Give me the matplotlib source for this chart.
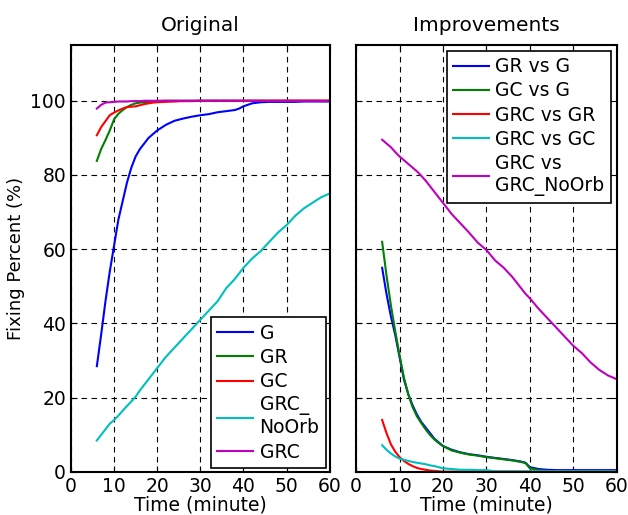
import numpy as np
import matplotlib
matplotlib.use("Agg")
import matplotlib.pyplot as plt

# time axis (minutes) shared by all curves
t = [6, 7, 8, 9, 10, 11, 12, 13, 14, 15, 16, 17, 18, 19, 20, 22, 24, 26, 28, 30,
     32, 34, 36, 38, 39, 40, 42, 44, 46, 48, 50, 52, 54, 56, 58, 60]

# left panel: fixing percent
g = [28.5, 37, 46, 54, 61, 68, 73, 78, 82, 85, 87, 88.5, 90, 91, 92, 93.5, 94.6, 95.2, 95.7, 96.1,
     96.4, 96.9, 97.2, 97.5, 97.9, 98.5, 99.3, 99.6, 99.7, 99.7, 99.7, 99.7, 99.8, 99.8, 99.8, 99.8]
gr = [83.8, 87, 89.4, 92, 95, 96.5, 97.5, 98.3, 98.9, 99.3, 99.5, 99.6, 99.7, 99.8, 99.9, 100, 100, 100, 100, 100,
      100, 100, 100, 100, 100, 100, 100, 100, 100, 100, 100, 100, 100, 100, 100, 100]
gc = [90.7, 92.9, 94.5, 96.1, 96.8, 97.4, 97.9, 98.3, 98.4, 98.5, 98.8, 99.1, 99.3, 99.5, 99.6, 99.7, 99.8, 99.9, 99.9, 100,
      100, 100, 100, 100, 100, 100, 100, 100, 100, 100, 100, 100, 100, 100, 100, 100]
grc_noorb = [8.5, 10, 11.5, 13, 14, 15.2, 16.5, 17.8, 19, 20.3, 22, 23.5, 25, 26.5, 28, 31, 33.5, 36, 38.5, 41,
             43.5, 46, 49.5, 52, 53.5, 55, 57.5, 59.5, 62, 64.5, 66.5, 69, 71, 72.5, 74, 75]
grc = [97.9, 98.9, 99.5, 99.6, 99.7, 99.8, 99.8, 99.8, 99.9, 99.9, 99.9, 100, 100, 100, 100, 100, 100, 100, 100, 100,
       100, 100, 100, 100, 100, 100, 100, 100, 100, 100, 100, 100, 100, 100, 100, 100]

# right panel: improvements
gr_vs_g = [55, 48, 42, 37, 31, 25, 21, 18, 15.5, 13.5, 12, 10.5, 9, 8, 7, 6, 5.3, 4.8, 4.5, 4.1,
           3.8, 3.5, 3.2, 2.8, 2.5, 1.3, 0.8, 0.6, 0.5, 0.5, 0.5, 0.5, 0.5, 0.5, 0.5, 0.5]
gc_vs_g = [62, 53, 45, 38, 31.5, 25.5, 21, 17.5, 15, 13.2, 11.5, 10, 8.8, 7.8, 7, 5.8, 5.2, 4.7, 4.4, 4,
           3.7, 3.4, 3.1, 2.7, 2.4, 1, 0.5, 0.3, 0.2, 0.2, 0.2, 0.2, 0.2, 0.2, 0.2, 0.2]
grc_vs_gr = [14, 10.5, 7.5, 5.5, 4, 3, 2.2, 1.6, 1.1, 0.8, 0.6, 0.4, 0.3, 0.2, 0.1, 0.1, 0.1, 0.1, 0.1, 0.1,
             0.1, 0.1, 0.1, 0.1, 0.1, 0.1, 0.1, 0.1, 0.1, 0.1, 0.1, 0.1, 0.1, 0.1, 0.1, 0.1]
grc_vs_gc = [7.2, 6, 5, 4.2, 3.6, 3.3, 3, 2.7, 2.5, 2.3, 2.1, 1.8, 1.6, 1.3, 1, 0.8, 0.6, 0.6, 0.5, 0.5,
             0.2, 0.2, 0.2, 0.2, 0.2, 0.2, 0.2, 0.2, 0.2, 0.2, 0.2, 0.2, 0.2, 0.2, 0.2, 0.2]
grc_vs_noorb = [89.5, 88.5, 87.5, 86.2, 85, 84, 83, 82, 81, 79.8, 78.5, 77, 75.5, 74, 72.5, 69.5, 67, 64.5, 61.8, 59.8,
                57, 55, 52.5, 49.5, 48, 46.8, 44, 41.5, 39, 36.5, 34, 32, 29.5, 27.5, 26, 25]

cols = ['#0000ff', '#008000', '#ff0000', '#00bfbf', '#bf00bf']

plt.rcParams["font.family"] = "DejaVu Sans"
plt.rcParams["font.size"] = 13

fig = plt.figure(figsize=(6.28, 5.15), dpi=100)
ax1 = fig.add_axes([0.113, 0.0835, 0.412, 0.829])
ax2 = fig.add_axes([0.567, 0.0835, 0.415, 0.829])

left_series = [(g, 'G'), (gr, 'GR'), (gc, 'GC'), (grc_noorb, 'GRC_\nNoOrb'), (grc, 'GRC')]
right_series = [(gr_vs_g, 'GR vs G'), (gc_vs_g, 'GC vs G'), (grc_vs_gr, 'GRC vs GR'),
                (grc_vs_gc, 'GRC vs GC'), (grc_vs_noorb, 'GRC vs\nGRC_NoOrb')]

for ax, series in [(ax1, left_series), (ax2, right_series)]:
    for (vals, lab), c in zip(series, cols):
        ax.plot(t, vals, color=c, linewidth=1.5, label=lab)
    ax.set_xlim(0, 60)
    ax.set_ylim(0, 115)
    ax.set_xticks(np.arange(0, 70, 10))
    ax.set_yticks(np.arange(0, 120, 20))
    ax.grid(True, color='k', linestyle=(0, (5, 4)), linewidth=0.8)
    ax.tick_params(direction='in', top=True, right=True, length=4, labelsize=13.5)
    for sp in ax.spines.values():
        sp.set_linewidth(1.5)
    ax.set_xlabel('Time (minute)', fontsize=13.5, labelpad=0)

ax2.set_yticklabels([])
ax1.set_ylabel('Fixing Percent (%)', fontsize=13)
ax1.set_title('Original', fontsize=14.5, pad=10)
ax2.set_title('Improvements', fontsize=14.5, pad=10)

leg_kw = dict(fancybox=False, edgecolor='k', framealpha=1, handlelength=1.9,
              handletextpad=0.35, labelspacing=0.28, borderpad=0.35, fontsize=13.5)
l1 = ax1.legend(loc='lower right', borderaxespad=0.2, **leg_kw)
l2 = ax2.legend(loc='upper right', borderaxespad=0.3, **leg_kw)
for l in (l1, l2):
    l.get_frame().set_linewidth(1.2)

fig.savefig('out.png', dpi=100)
